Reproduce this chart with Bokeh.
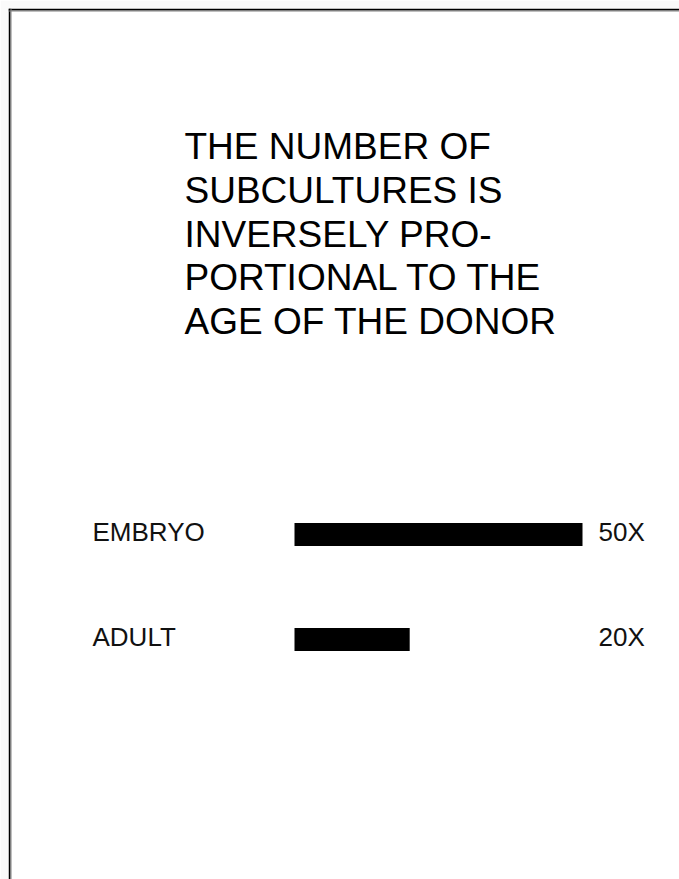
from bokeh.plotting import figure
from bokeh.models import Range1d, Span
from bokeh.core.properties import value
from bokeh.embed import file_html
from bokeh.resources import INLINE

# ---- data ----
categories = ["EMBRYO", "ADULT"]
subcultures = [50, 20]
value_labels = ["50X", "20X"]
title_lines = [
    "THE NUMBER OF",
    "SUBCULTURES IS",
    "INVERSELY PRO-",
    "PORTIONAL TO THE",
    "AGE OF THE DONOR",
]

# ---- layout ----
W, H = 679, 879
MARGIN = 8
PX_PER_UNIT = 5.76      # horizontal scale (px per subculture)
ORIGIN_X = 294          # x of bar origin within figure
ROW0_Y = 534            # y of first row centre within figure
ROW_STEP = 105          # px between rows


def xv(px):
    return (px - ORIGIN_X) / PX_PER_UNIT


def yv(py):
    return (py - ROW0_Y) / ROW_STEP


x_start, x_end = xv(MARGIN), xv(W)
y_top, y_bottom = yv(MARGIN), yv(H)

p = figure(width=W, height=H, output_backend="svg", toolbar_location=None,
           x_range=Range1d(x_start, x_end), y_range=Range1d(y_bottom, y_top),
           min_border_left=MARGIN, min_border_top=MARGIN,
           min_border_right=0, min_border_bottom=0)
p.axis.visible = False
p.grid.visible = False
p.outline_line_color = None
p.border_fill_color = "#fafafa"
p.background_fill_color = "white"

rows = list(range(len(categories)))
p.hbar(y=rows, left=0, right=subcultures, height=23 / ROW_STEP,
       fill_color="black", line_color=None)

label_font = value("Liberation Sans")
p.text(x=[0] * len(rows), y=rows, text=categories, x_offset=-202, y_offset=-3,
       text_font=label_font, text_font_size="26px", text_color="#111111",
       text_baseline="alphabetic", text_align="left")
p.text(x=[0] * len(rows), y=rows, text=value_labels, x_offset=304, y_offset=-3,
       text_font=label_font, text_font_size="26px", text_color="#111111",
       text_baseline="alphabetic", text_align="left")

title_y = [yv(146 + 43.8 * i) for i in range(len(title_lines))]
p.text(x=[xv(184)] * len(title_lines), y=title_y, text=title_lines,
       text_font=value("Liberation Sans"), text_font_size="37px", text_color="black",
       text_baseline="alphabetic", text_align="left")

# page frame (top and left edges visible)
p.add_layout(Span(location=xv(9), dimension="height", line_color="black", line_width=2))
p.add_layout(Span(location=yv(9), dimension="width", line_color="black", line_width=2))
p.add_layout(Span(location=xv(10.5), dimension="height", line_color="#808080", line_width=1))
p.add_layout(Span(location=yv(10.5), dimension="width", line_color="#808080", line_width=1))

open("out.html", "w").write(file_html(p, INLINE))
